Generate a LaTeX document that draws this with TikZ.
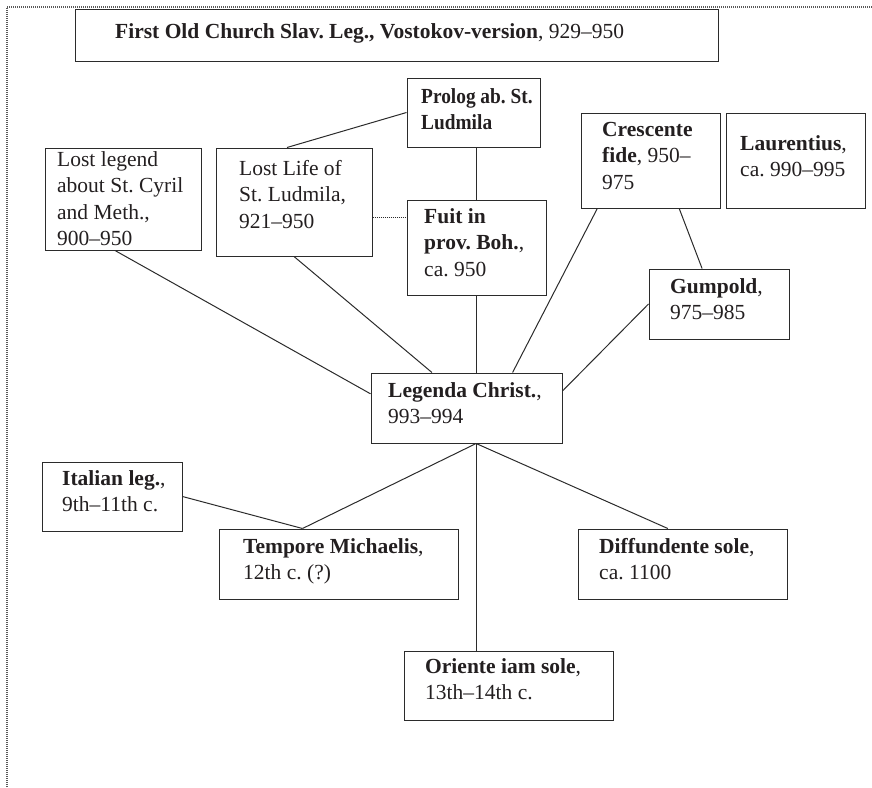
\documentclass[tikz,border=0pt]{standalone}
\usepackage{fontspec}
\setmainfont{Liberation Serif}
\newfontfamily\condserif[FakeStretch=0.9]{Liberation Serif}
\usetikzlibrary{fit,calc}
\definecolor{ink}{HTML}{231F20}
\definecolor{rule}{HTML}{2B2B2B}
\tikzset{
  boxrect/.style={draw=rule, line width=1pt, inner sep=0pt},
  boxtext/.style={anchor=base west, inner sep=0pt, text=ink,
    font=\fontsize{21.5}{26.5}\selectfont\frenchspacing},
  link/.style={draw=rule, line width=1pt},
  weaklink/.style={draw=rule, line width=1pt, dash pattern=on 1pt off 1pt},
  frameline/.style={draw=black!65, line width=1.5pt, dash pattern=on 1pt off 1pt}
}
% #1 name, (#2,#3)-(#4,#5) box corners, (#6,#7) first baseline start, #8 text
\newcommand\legbox[8]{%
  \node[boxrect, fit={(#2,#3) (#4,#5)}] (#1) {};
  \node[boxtext] (#1-t) at (#6,#7) {\begin{tabular}[t]{@{}l@{}}#8\end{tabular}};
}
\begin{document}
\begin{tikzpicture}[x=1pt,y=-1pt]
\useasboundingbox (0,0) rectangle (872,787);
% page frame
\draw[frameline] (7,787) -- (7,7) -- (872,7);

\legbox{vost}{75}{9}{718}{61}{115}{38}{\textbf{First Old Church Slav. Leg., Vostokov-version}, 929–950}
\legbox{prolog}{407}{78}{540}{147}{421}{103}{\condserif\bfseries Prolog ab. St.\\\condserif\bfseries Ludmila}
\legbox{lostleg}{45}{148}{201}{250}{57}{166}{Lost legend\\about St. Cyril\\and Meth.,\\900–950}
\legbox{lostlife}{216}{148}{372}{256}{239}{175}{Lost Life of\\St. Ludmila,\\921–950}
\legbox{fuit}{407}{200}{546}{295}{424}{223}{\textbf{Fuit in}\\\textbf{prov. Boh.},\\ca. 950}
\legbox{cresc}{581}{113}{720}{208}{602}{136}{\textbf{Crescente}\\\textbf{fide}, 950–\\975}
\legbox{laur}{726}{113}{865}{208}{740}{150}{\textbf{Laurentius},\\ca. 990–995}
\legbox{gump}{649}{269}{789}{339}{670}{293}{\textbf{Gumpold},\\975–985}
\legbox{legenda}{371}{373}{562}{443}{388}{397}{\textbf{Legenda Christ.},\\993–994}
\legbox{italian}{42}{462}{182}{531}{62}{485}{\textbf{Italian leg.},\\9th–11th c.}
\legbox{tempore}{219}{529}{458}{599}{243}{553}{\textbf{Tempore Michaelis},\\12th c. (?)}
\legbox{diff}{578}{529}{787}{599}{599}{553}{\textbf{Diffundente sole},\\ca. 1100}
\legbox{oriente}{404}{651}{613}{720}{425}{673}{\textbf{Oriente iam sole},\\13th–14th c.}

\coordinate (dl) at (0,217);
\coordinate (lb) at ($(legenda.south west)!0.55!(legenda.south east)$);

% upper connectors
\draw[link] ([xshift=-7pt]lostlife.north) -- (prolog.west);
\draw[link] (prolog.south -| fuit.north) -- (fuit.north);
\draw[weaklink] (lostlife.east |- dl) -- (fuit.west |- dl);
\draw[link] (fuit.south) -- (fuit.south |- legenda.north);
\draw[link] ([xshift=-8pt]lostleg.south) -- ($(legenda.north west)!0.3!(legenda.south west)$);
\draw[link] (lostlife.south) -- ($(legenda.north west)!0.32!(legenda.north east)$);
\draw[link] ($(cresc.south west)!0.12!(cresc.south east)$) -- ($(legenda.north west)!0.74!(legenda.north east)$);
\draw[link] ($(cresc.south west)!0.705!(cresc.south east)$) -- ($(gump.north west)!0.38!(gump.north east)$);
\draw[link] (gump.west) -- ($(legenda.north east)!0.26!(legenda.south east)$);

% lower connectors
\coordinate (tt) at ($(tempore.north west)!0.35!(tempore.north east)$);
\draw[link] (lb) -- (tt);
\draw[link] (italian.east) -- (tt);
\draw[link] (lb) -- ($(diff.north west)!0.43!(diff.north east)$);
\draw[link] (lb) -- (lb |- oriente.north);
\end{tikzpicture}
\end{document}
